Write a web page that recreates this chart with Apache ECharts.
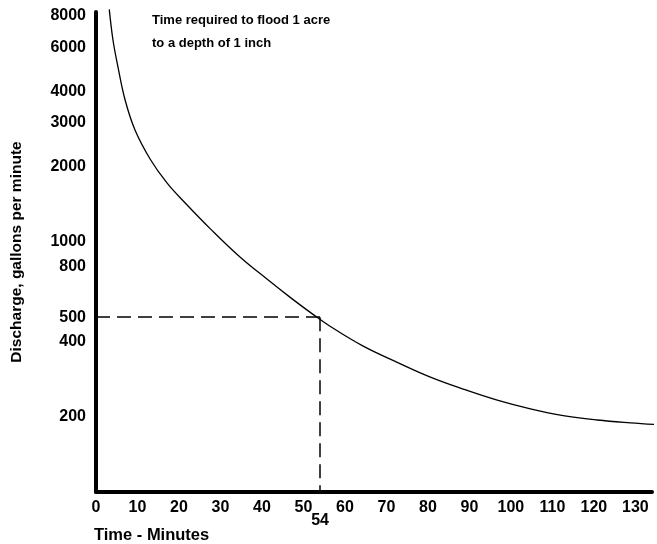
<!DOCTYPE html>
<html>
<head>
<meta charset="utf-8">
<title>Flood time</title>
<script src="https://cdn.jsdelivr.net/npm/echarts@6/dist/echarts.min.js"></script>
<style>
  html, body { margin: 0; padding: 0; background: #fff; }
  #chart { width: 657px; height: 544px; }
</style>
</head>
<body>
<div id="chart"></div>
<script>
// minutes / gallons per minute
var times = [3.2, 4.1, 5.3, 7.0, 9.4, 13.0, 17.1, 21.5, 27.5, 34.7, 41.2, 46.8, 52.3, 56.4, 64.4, 72.6, 80.6, 88.5, 96.7, 104.7, 112.6, 120.8, 128.8, 135.3];
var discharge = [8500, 6400, 5000, 3700, 2800, 2150, 1720, 1430, 1130, 870, 710, 600, 513, 460, 383, 330, 288, 258, 233, 215, 202, 194, 189, 186];

var xTicks = [0, 10, 20, 30, 40, 50, 60, 70, 80, 90, 100, 110, 120, 130];
var yTicks = [200, 400, 500, 800, 1000, 2000, 3000, 4000, 6000, 8000];

// the marked reading
var markTime = 54;
var markFlow = 500;

var font = 'Liberation Sans';

var myChart = echarts.init(document.getElementById('chart'));

var curve = [];
for (var i = 0; i < times.length; i++) {
  curve.push([times[i], discharge[i]]);
}

var option = {
  animation: false,
  title: {
    text: 'Time required to flood 1 acre\nto a depth of 1 inch',
    left: 147,
    top: 4,
    textStyle: {
      fontFamily: font,
      fontWeight: 'bold',
      fontSize: 13,
      lineHeight: 23,
      color: '#000'
    }
  },
  grid: {
    left: 96,
    right: 5,
    top: 12,
    bottom: 51
  },
  xAxis: [{
    type: 'value',
    min: 0,
    max: 134,
    name: 'Time - Minutes',
    nameLocation: 'start',
    nameGap: 0,
    nameTextStyle: {
      fontFamily: font,
      fontWeight: 'bold',
      fontSize: 16.5,
      color: '#000',
      align: 'left',
      verticalAlign: 'top',
      padding: [35, 0, 0, -2]
    },
    splitLine: { show: false },
    axisTick: { show: false },
    axisLine: { lineStyle: { color: '#000', width: 4 } },
    axisLabel: {
      customValues: xTicks,
      margin: 8,
      fontFamily: font,
      fontWeight: 'bold',
      fontSize: 16,
      color: '#000'
    }
  }, {
    type: 'value',
    position: 'bottom',
    min: 0,
    max: 134,
    offset: 14,
    splitLine: { show: false },
    axisTick: { show: false },
    axisLine: { show: false },
    axisLabel: {
      customValues: [markTime],
      margin: 7,
      fontFamily: font,
      fontWeight: 'bold',
      fontSize: 16,
      color: '#000'
    }
  }],
  yAxis: {
    type: 'log',
    min: 100,
    max: 8300,
    name: 'Discharge, gallons per minute',
    nameLocation: 'middle',
    nameRotate: 90,
    nameGap: 71,
    nameTextStyle: {
      fontFamily: font,
      fontWeight: 'bold',
      fontSize: 15.5,
      color: '#000'
    },
    splitLine: { show: false },
    axisTick: { show: false },
    axisLine: { lineStyle: { color: '#000', width: 4 } },
    axisLabel: {
      customValues: yTicks,
      margin: 10,
      fontFamily: font,
      fontWeight: 'bold',
      fontSize: 16,
      color: '#000',
      formatter: function (v) { return String(Math.round(v)); }
    }
  },
  series: [{
    type: 'line',
    data: curve,
    smooth: 0.4,
    showSymbol: false,
    clip: false,
    lineStyle: { color: '#000', width: 1.3 },
    markLine: {
      silent: true,
      symbol: 'none',
      label: { show: false },
      lineStyle: { color: '#000', width: 1.5, type: [14, 7] },
      data: [
        [{ coord: [0, markFlow] }, { coord: [markTime, markFlow] }],
        [{ coord: [markTime, markFlow] }, { coord: [markTime, 100] }]
      ]
    }
  }]
};

myChart.setOption(option);
</script>
</body>
</html>
